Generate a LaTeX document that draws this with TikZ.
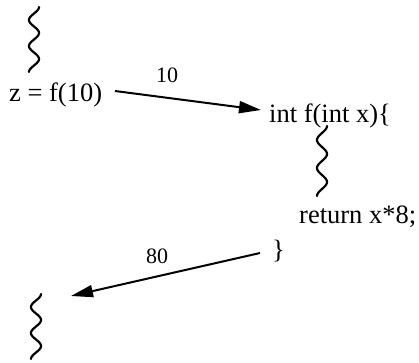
\documentclass[tikz,border=0pt]{standalone}
\usepackage{fontspec}
\setmainfont{Liberation Serif}
\usetikzlibrary{arrows.meta}
\begin{document}
\begin{tikzpicture}[x=1pt,y=-1pt,
  txt/.style={anchor=base west,inner sep=0pt,font=\fontsize{26.5}{30}\selectfont},
  lbl/.style={anchor=base,inner sep=0pt,font=\fontsize{22}{26}\selectfont},
  call/.style={line width=2pt,-{Triangle[length=22pt,width=12pt]}},
  squig/.style={line width=2.2pt,line cap=round}]
\useasboundingbox (0,0) rectangle (419,362);
% texts
\node[txt] (z) at (9,101) {z = f(10)};
\node[txt] (fn) at (269,122) {int f(int x)\{};
\node[txt] (ret) at (299,223) {return x*8;};
\node[txt] (br) at (272,258) {\}};
\node[lbl] (l10) at (167,82) {10};
\node[lbl] (l80) at (157,263) {80};
% connector end points
\coordinate (a1s) at (115,91);
\coordinate (a1e) at (261,110);
\coordinate (a2s) at (260,253);
\coordinate (a2e) at (71,296);
\draw[call] (a1s) -- (a1e);
\draw[call] (a2s) -- (a2e);
% squiggles
\draw[squig] plot[smooth,domain=0:1,samples=80] ({34+5*cos(900*\x)},{7+65*\x});
\draw[squig] plot[smooth,domain=0:1,samples=80] ({322+5*cos(900*\x)},{126+70*\x});
\draw[squig] plot[smooth,domain=0:1,samples=80] ({36+5*cos(900*\x)},{294+65*\x});
\end{tikzpicture}
\end{document}
